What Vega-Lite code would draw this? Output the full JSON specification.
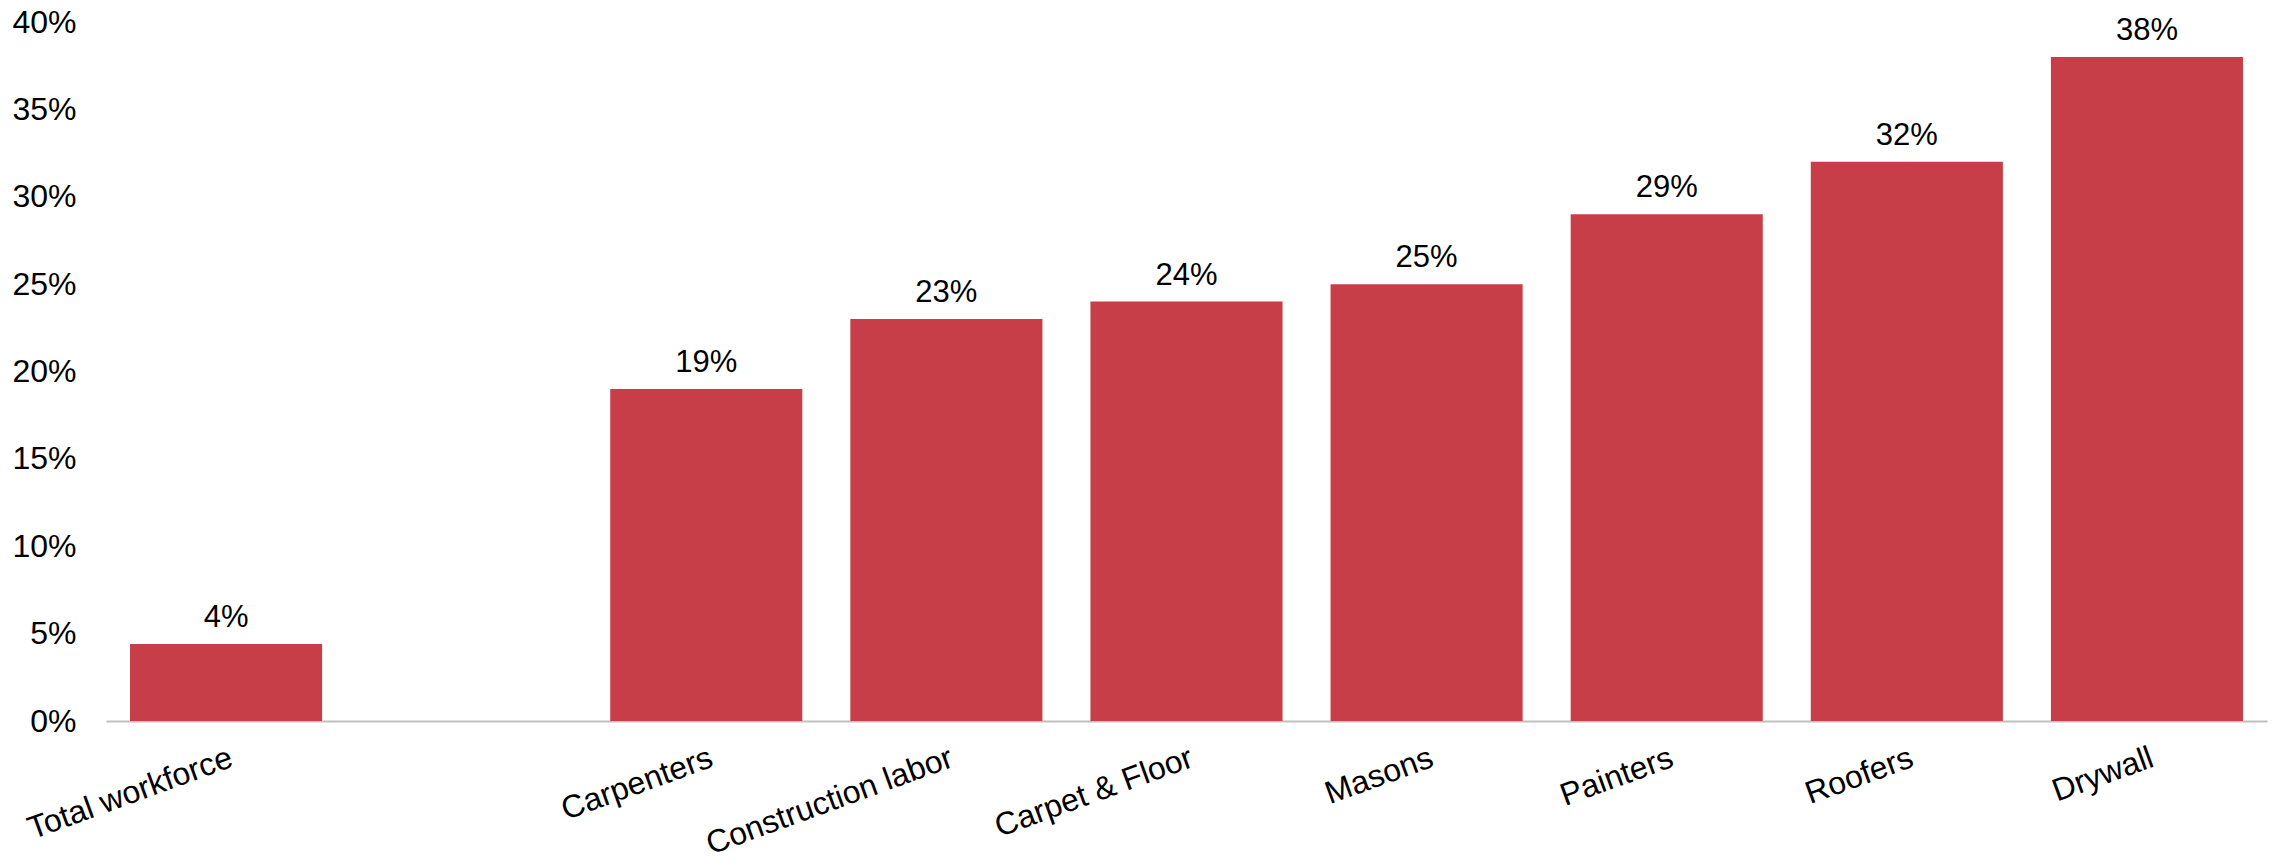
{
  "$schema": "https://vega.github.io/schema/vega-lite/v6.json",
  "autosize": {"type": "none"},
  "width": 2161,
  "height": 699,
  "padding": {"left": 106, "right": 5, "top": 22, "bottom": 146},
  "background": "white",
  "config": {
    "view": {"stroke": null},
    "font": "Liberation Sans"
  },
  "data": {
    "values": [
      {"category": "Total workforce", "share": 0.044},
      {"category": "Carpenters", "share": 0.19},
      {"category": "Construction labor", "share": 0.23},
      {"category": "Carpet & Floor", "share": 0.24},
      {"category": "Masons", "share": 0.25},
      {"category": "Painters", "share": 0.29},
      {"category": "Roofers", "share": 0.32},
      {"category": "Drywall", "share": 0.38}
    ]
  },
  "encoding": {
    "x": {
      "field": "category",
      "type": "nominal",
      "sort": null,
      "scale": {
        "domain": ["Total workforce", " ", "Carpenters", "Construction labor", "Carpet & Floor", "Masons", "Painters", "Roofers", "Drywall"],
        "paddingInner": 0.2,
        "paddingOuter": 0.1
      },
      "axis": {
        "title": null,
        "labelAngle": -20,
        "labelFontSize": 32,
        "labelColor": "#000000",
        "labelFont": "Liberation Sans",
        "labelPadding": 21,
        "ticks": false,
        "tickSize": 0,
        "domainColor": "#BFBFBF",
        "domainWidth": 2,
        "grid": false,
        "labelOverlap": false,
        "labelLimit": 0
      }
    },
    "y": {
      "field": "share",
      "type": "quantitative",
      "scale": {"domain": [0, 0.4], "nice": false},
      "axis": {
        "title": null,
        "format": ".0%",
        "values": [0, 0.05, 0.1, 0.15, 0.2, 0.25, 0.3, 0.35, 0.4],
        "labelFontSize": 32,
        "labelColor": "#000000",
        "labelFont": "Liberation Sans",
        "labelPadding": 30,
        "ticks": false,
        "tickSize": 0,
        "domain": false,
        "grid": false
      }
    }
  },
  "layer": [
    {
      "mark": {"type": "bar", "color": "#C83E48"}
    },
    {
      "mark": {
        "type": "text",
        "baseline": "alphabetic",
        "dy": -17,
        "fontSize": 31,
        "font": "Liberation Sans",
        "color": "#000000"
      },
      "encoding": {
        "text": {"field": "share", "type": "quantitative", "format": ".0%"}
      }
    }
  ]
}
